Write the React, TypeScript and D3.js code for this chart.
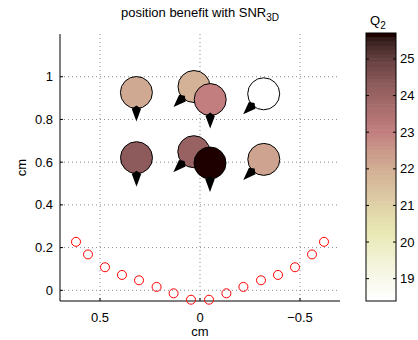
import React from "react";
import * as d3 from "d3";

// microphone positions (cm)
const micX = [0.62, 0.56, 0.475, 0.39, 0.305, 0.217, 0.132, 0.045, -0.045, -0.132, -0.217, -0.305, -0.39, -0.475, -0.56, -0.62];
const micY = [0.227, 0.168, 0.108, 0.072, 0.047, 0.016, -0.014, -0.044, -0.044, -0.014, 0.016, 0.047, 0.072, 0.108, 0.168, 0.227];

// balloon markers: centre (cm), Q2 value, pointer direction (deg, math convention)
const qX = [0.318, 0.03, -0.051, -0.3185, 0.3175, 0.031, -0.05, -0.319];
const qY = [0.926, 0.954, 0.893, 0.92, 0.621, 0.649, 0.596, 0.613];
const qValue = [22.06, 21.9, 23.0, 18.39, 24.3, 24.0, 25.71, 22.2];
const qDir = [270, 225, 270, 225, 270, 225, 270, 225];

const xTicks = [0.5, 0, -0.5];
const yTicks = [0, 0.2, 0.4, 0.6, 0.8, 1];
const cbTicks = [19, 20, 21, 22, 23, 24, 25];
const cMin = 18.39;
const cMax = 25.71;

// MATLAB pink(64)
function pinkMap(m: number): string[] {
  const n = Math.floor((3 / 8) * m);
  const out: string[] = [];
  for (let i = 0; i < m; i++) {
    const g = i / (m - 1);
    const hr = i < n ? (i + 1) / n : 1;
    const hg = i < n ? 0 : i < 2 * n ? (i - n + 1) / n : 1;
    const hb = i < 2 * n ? 0 : (i - 2 * n + 1) / (m - 2 * n);
    const f = (h: number) => Math.round(Math.sqrt((2 * g + h) / 3) * 255);
    out.push(`rgb(${f(hr)},${f(hg)},${f(hb)})`);
  }
  return out;
}
const cmap = pinkMap(64).reverse(); // index 0 = white (low), 63 = dark (high)
const colorOf = (v: number) => {
  let idx = Math.floor(((v - cMin) / (cMax - cMin)) * 64);
  idx = Math.max(0, Math.min(63, idx));
  return cmap[idx];
};

const font = "'Liberation Sans', Arial, sans-serif";
const fs = 13;

export default function App() {
  const L = 60, R = 340, T = 34, B = 301;
  const x = d3.scaleLinear().domain([0.7, -0.7]).range([L, R]);
  const y = d3.scaleLinear().domain([-0.05, 1.2]).range([B, T]);
  const cbX0 = 366, cbX1 = 396, cbT = 33, cbB = 301;
  const cy = d3.scaleLinear().domain([cMin, cMax]).range([cbB, cbT]);
  const r = 16;

  const pointer = (cx: number, cyy: number, deg: number) => {
    const a = (deg * Math.PI) / 180;
    const pt = (rad: number, ang: number) => [cx + rad * Math.cos(ang), cyy - rad * Math.sin(ang)];
    const w = (16 * Math.PI) / 180;
    const p = [pt(r + 13, a), pt(r + 1, a + w), pt(r - 3, a), pt(r + 1, a - w)];
    return d3.line()(p as [number, number][]) + "Z";
  };

  return (
    <svg width={418} height={340} style={{ position: "absolute", left: 0, top: 0, background: "#fff" }}>
      {/* grid */}
      {xTicks.map((t) => (
        <line key={"gx" + t} x1={x(t)} x2={x(t)} y1={T} y2={B} stroke="#888" strokeWidth={1} strokeDasharray="1,3" />
      ))}
      {yTicks.map((t) => (
        <line key={"gy" + t} x1={L} x2={R} y1={y(t)} y2={y(t)} stroke="#888" strokeWidth={1} strokeDasharray="1,3" />
      ))}
      {/* axes */}
      <line x1={L} x2={L} y1={T} y2={B} stroke="#000" />
      <line x1={L} x2={R} y1={B} y2={B} stroke="#000" />
      {xTicks.map((t) => (
        <g key={"xt" + t}>
          <line x1={x(t)} x2={x(t)} y1={B} y2={B - 3} stroke="#000" />
          <text x={x(t)} y={322} textAnchor="middle" fontFamily={font} fontSize={fs}>
            {t < 0 ? "\u2212" + Math.abs(t) : String(t)}
          </text>
        </g>
      ))}
      {yTicks.map((t) => (
        <g key={"yt" + t}>
          <line x1={L} x2={L + 3} y1={y(t)} y2={y(t)} stroke="#000" />
          <text x={53} y={y(t) + 4.5} textAnchor="end" fontFamily={font} fontSize={fs}>
            {String(t)}
          </text>
        </g>
      ))}
      <text x={200} y={336} textAnchor="middle" fontFamily={font} fontSize={fs}>cm</text>
      <text transform={`translate(26,${(T + B) / 2}) rotate(-90)`} textAnchor="middle" fontFamily={font} fontSize={fs}>cm</text>
      {/* title */}
      <text x={200} y={17} textAnchor="middle" fontFamily={font} fontSize={fs}>
        position benefit with SNR<tspan dy={4} fontSize={10}>3D</tspan>
      </text>
      {/* microphones */}
      {micX.map((v, i) => (
        <circle key={"m" + i} cx={x(v)} cy={y(micY[i])} r={4.5} fill="none" stroke="#ff0000" strokeWidth={1} />
      ))}
      {/* balloons */}
      {qX.map((v, i) => (
        <g key={"q" + i}>
          <circle cx={x(v)} cy={y(qY[i])} r={r} fill={colorOf(qValue[i])} stroke="#000" strokeWidth={1} />
          <path d={pointer(x(v), y(qY[i]), qDir[i])} fill="#000" />
        </g>
      ))}
      {/* colorbar */}
      {cmap.map((c, i) => {
        const v0 = cMin + ((cMax - cMin) * i) / 64;
        const v1 = cMin + ((cMax - cMin) * (i + 1)) / 64;
        return <rect key={"cb" + i} x={cbX0} width={cbX1 - cbX0} y={cy(v1)} height={cy(v0) - cy(v1) + 0.5} fill={c} />;
      })}
      <rect x={cbX0} y={cbT} width={cbX1 - cbX0} height={cbB - cbT} fill="none" stroke="#000" />
      {cbTicks.map((t) => (
        <g key={"cbt" + t}>
          <line x1={cbX0} x2={cbX0 + 3} y1={cy(t)} y2={cy(t)} stroke="#000" />
          <line x1={cbX1} x2={cbX1 - 3} y1={cy(t)} y2={cy(t)} stroke="#000" />
          <text x={400} y={cy(t) + 4.5} fontFamily={font} fontSize={fs}>{t}</text>
        </g>
      ))}
      <text x={370} y={25} fontFamily={font} fontSize={fs}>
        Q<tspan dy={4} fontSize={10}>2</tspan>
      </text>
    </svg>
  );
}
